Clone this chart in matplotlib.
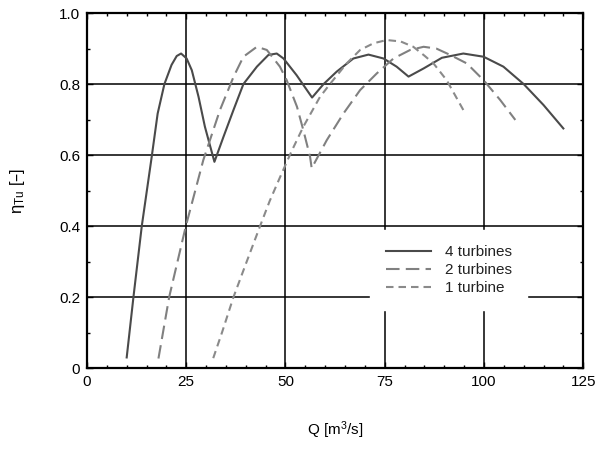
import matplotlib
matplotlib.use("Agg")
import matplotlib.pyplot as plt
from matplotlib.ticker import MultipleLocator, FixedLocator

plt.rcParams['font.family'] = ['Liberation Sans', 'DejaVu Sans']
plt.rcParams['mathtext.default'] = 'regular'

# 4 turbines
q4 = [10, 11.7, 13.8, 16.3, 17.8, 19.5, 21.3, 22.6, 23.7, 25.1, 26.4, 28.1, 29.7, 32.1,
      34.4, 36.9, 39.4, 42.8, 45.7, 47.8, 49.5, 52.8, 56.7, 59.6, 62.9, 67.1, 70.9, 74.7, 78.0, 81.0,
      84.8, 89.4, 94.8, 99.9, 104.9, 110, 115, 120]
e4 = [0.03, 0.2, 0.4, 0.595, 0.717, 0.80, 0.854, 0.879, 0.886, 0.872, 0.839, 0.764, 0.68, 0.581,
      0.652, 0.727, 0.80, 0.849, 0.882, 0.886, 0.872, 0.825, 0.762, 0.80, 0.835, 0.872, 0.883, 0.872, 0.849, 0.821,
      0.844, 0.874, 0.886, 0.877, 0.849, 0.80, 0.741, 0.675]

# 2 turbines
q2 = [18, 20.7, 24.9, 27.2, 29.3, 33.5, 36.9, 39.4, 42.8, 45.3, 48.6, 50.3, 52.9, 54.5, 56.2,
      56.6, 60.4, 64.6, 68.8, 73.0, 77.2, 81.4, 84.8, 88, 91.5, 95.7, 99.9, 104.1, 107.9]
e2 = [0.027, 0.2, 0.4, 0.497, 0.586, 0.727, 0.82, 0.877, 0.905, 0.896, 0.849, 0.811, 0.736, 0.670, 0.595,
      0.563, 0.642, 0.717, 0.783, 0.830, 0.872, 0.896, 0.905, 0.90, 0.882, 0.858, 0.811, 0.755, 0.699]

# 1 turbine
q1 = [31.8, 34, 36.9, 40, 43.6, 46, 48.6, 51.5, 54.5, 58.7, 61.2, 65.4, 68.8, 72.2, 75.5,
      79, 82.2, 85, 87.3, 90.6, 94.8]
e1 = [0.028, 0.10, 0.2, 0.293, 0.4, 0.47, 0.537, 0.61, 0.68, 0.764, 0.80, 0.858, 0.896, 0.915, 0.924,
      0.92, 0.905, 0.88, 0.858, 0.811, 0.727]

labels = ['4 turbines', '2 turbines', '1 turbine']
xticks = [0, 25, 50, 75, 100, 125]
yticks = [0, 0.2, 0.4, 0.6, 0.8, 1.0]
yticklabels = ['0', '0.2', '0.4', '0.6', '0.8', '1.0']

fig = plt.figure(figsize=(6, 4.5), dpi=100)
ax = fig.add_axes([0.145, 0.182, 0.827, 0.789])

ax.plot(q4, e4, color='#4a4a4a', lw=1.5, label=labels[0], zorder=3)
ax.plot(q2, e2, color='#808080', lw=1.5, dashes=(6.5, 3.0), label=labels[1], zorder=3)
ax.plot(q1, e1, color='#8a8a8a', lw=1.5, dashes=(3.6, 2.4), label=labels[2], zorder=3)

ax.set_xlim(0, 125)
ax.set_ylim(0, 1.0)
ax.xaxis.set_major_locator(FixedLocator(xticks))
ax.yaxis.set_major_locator(FixedLocator(yticks))
ax.set_yticklabels(yticklabels)
ax.xaxis.set_minor_locator(MultipleLocator(5))
ax.yaxis.set_minor_locator(MultipleLocator(0.1))
ax.tick_params(which='both', direction='in', top=True, right=True, labelsize=11, colors='black')
ax.tick_params(which='major', length=4, width=1, pad=5)
ax.tick_params(which='minor', length=2.5, width=1)
ax.grid(True, which='major', color='black', lw=1.1)
ax.set_axisbelow(True)
for s in ax.spines.values():
    s.set_linewidth(1.6)

ax.set_xlabel('Q [m$^3$/s]', fontsize=11, labelpad=22)
ax.set_ylabel(r'$\eta_{Tu}$ [–]', fontsize=12)
ax.yaxis.set_label_coords(-0.12, 0.5)

leg = ax.legend(loc='lower left', bbox_to_anchor=(0.571, 0.163), borderaxespad=0,
                frameon=True, fancybox=False, framealpha=1, facecolor='white', edgecolor='white',
                fontsize=11, handlelength=3.0, handletextpad=0.9, labelspacing=0.25, borderpad=1.0)
leg.set_zorder(5)
for t in leg.get_texts():
    t.set_color('#222222')

fig.savefig('out.png', dpi=100)
